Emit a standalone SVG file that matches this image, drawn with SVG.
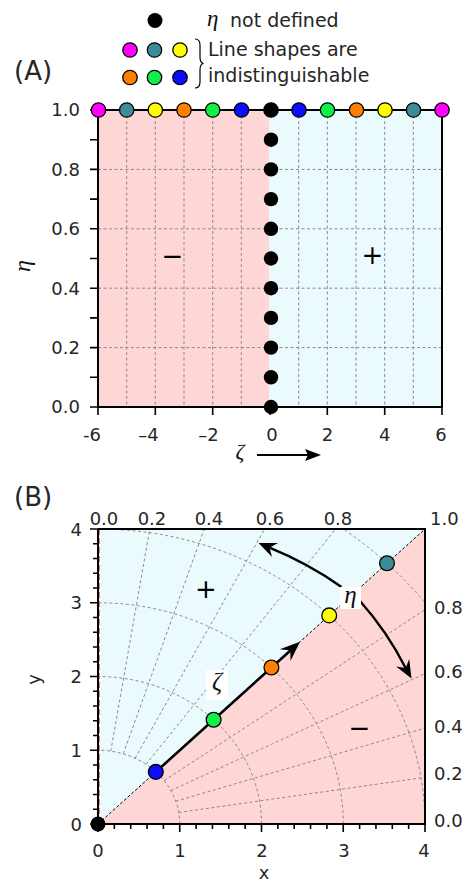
<svg xmlns="http://www.w3.org/2000/svg" width="471" height="882" viewBox="0 0 471 882">
<style>
.lbl{font-family:"DejaVu Sans","Liberation Sans",sans-serif;font-size:18px;fill:#262626}
.leg{font-family:"DejaVu Sans","Liberation Sans",sans-serif;font-size:19px;fill:#262626}
.big{font-family:"DejaVu Sans","Liberation Sans",sans-serif;font-size:26px;fill:#262626}
.sign{font-family:"DejaVu Sans","Liberation Sans",sans-serif;font-size:26px;fill:#000}
.gr{font-family:"Liberation Serif","DejaVu Serif",serif;font-style:italic;fill:#111}
.grid{stroke:#8a8a8a;stroke-width:1;stroke-dasharray:3 2.5;fill:none}
.frame{stroke:#000;stroke-width:2;fill:none}
.tick{stroke:#000;stroke-width:1.6;fill:none}
.dot{stroke:#000;stroke-width:1.3}
.pink{fill:#ffd6d6}
.blue{fill:#ebfbfd}
.mag{fill:#ff00ff}.teal{fill:#3c8d98}.yel{fill:#ffff00}.org{fill:#ff8000}.grn{fill:#10f048}.blu{fill:#0c0cff}.blk{fill:#000}
</style>
<defs>
<clipPath id="clipB"><rect x="98" y="529" width="327" height="295"/></clipPath>
</defs>
<rect width="471" height="882" fill="#fff"/>

<g id="legend">
<circle class="blk" cx="155" cy="20.5" r="7.5"/>
<text class="gr" x="207" y="26" font-size="23">η</text>
<text class="leg" x="230" y="27">not defined</text>
<circle class="dot mag" cx="130" cy="50" r="7.2"/>
<circle class="dot teal" cx="154.5" cy="50" r="7.2"/>
<circle class="dot yel" cx="180" cy="50" r="7.2"/>
<circle class="dot org" cx="130" cy="77.5" r="7.2"/>
<circle class="dot grn" cx="154.5" cy="77.5" r="7.2"/>
<circle class="dot blu" cx="180" cy="77.5" r="7.2"/>
<path d="M195 39 Q200 39 200 45 L200 57 Q200 63 203.5 63.5 Q200 64 200 70 L200 82 Q200 88 195 88" fill="none" stroke="#000" stroke-width="1.2"/>
<text class="leg" x="208" y="56">Line shapes are</text>
<text class="leg" x="208" y="82">indistinguishable</text>
</g>

<g id="panelA">
<text class="big" x="14" y="80">(A)</text>
<rect class="pink" x="98" y="110" width="171.5" height="297"/>
<rect class="blue" x="269.5" y="110" width="172.5" height="297"/>
<path class="grid" d="M126.7 110V407M155.3 110V407M184 110V407M212.7 110V407M241.3 110V407M298.7 110V407M327.3 110V407M356 110V407M384.7 110V407M413.3 110V407M98 169.4H442M98 228.8H442M98 288.2H442M98 347.6H442"/>
<path class="frame" d="M98 110V407H442V110M98 110H442"/>
<path class="tick" d="M90 407H98M90 377.3H98M90 347.6H98M90 317.9H98M90 288.2H98M90 258.5H98M90 228.8H98M90 199.1H98M90 169.4H98M90 139.7H98M90 110H98"/>
<path class="tick" d="M98 407V415M155.3 407V415M212.7 407V415M270 407V415M327.3 407V415M384.7 407V415M442 407V415"/>
<g id="zeta0-dots" class="blk">
<circle cx="271" cy="407" r="7.2"/><circle cx="271" cy="377.3" r="7.2"/><circle cx="271" cy="347.6" r="7.2"/><circle cx="271" cy="317.9" r="7.2"/><circle cx="271" cy="288.2" r="7.2"/><circle cx="271" cy="258.5" r="7.2"/><circle cx="271" cy="228.8" r="7.2"/><circle cx="271" cy="199.1" r="7.2"/><circle cx="271" cy="169.4" r="7.2"/><circle cx="271" cy="139.7" r="7.2"/>
</g>
<g id="top-dots">
<circle class="dot mag" cx="98.5" cy="110" r="7.2"/>
<circle class="dot teal" cx="126.7" cy="110" r="7.2"/>
<circle class="dot yel" cx="155.3" cy="110" r="7.2"/>
<circle class="dot org" cx="184" cy="110" r="7.2"/>
<circle class="dot grn" cx="212.7" cy="110" r="7.2"/>
<circle class="dot blu" cx="241.5" cy="110" r="7.2"/>
<circle class="dot blk" cx="271" cy="110" r="7.2"/>
<circle class="dot blu" cx="299" cy="110" r="7.2"/>
<circle class="dot grn" cx="327.5" cy="110" r="7.2"/>
<circle class="dot org" cx="356.5" cy="110" r="7.2"/>
<circle class="dot yel" cx="385" cy="110" r="7.2"/>
<circle class="dot teal" cx="413.5" cy="110" r="7.2"/>
<circle class="dot mag" cx="442" cy="110" r="7.2"/>
</g>
<g class="lbl" text-anchor="end">
<text x="80" y="116">1.0</text><text x="80" y="175.5">0.8</text><text x="80" y="235">0.6</text><text x="80" y="294.5">0.4</text><text x="80" y="354">0.2</text><text x="80" y="413">0.0</text>
</g>
<g class="lbl" text-anchor="middle">
<text x="92" y="441">-6</text><text x="148.5" y="441">–4</text><text x="208.5" y="441">–2</text><text x="272" y="441">0</text><text x="327.5" y="441">2</text><text x="384.7" y="441">4</text><text x="441" y="441">6</text>
</g>
<text class="sign" x="172.5" y="265" text-anchor="middle">−</text>
<text class="sign" x="372.5" y="264" text-anchor="middle">+</text>
<text class="gr" font-size="24" text-anchor="middle" transform="translate(30,266) rotate(-90)">η</text>
<text class="gr" font-size="22" x="240" y="459" text-anchor="middle">ζ</text>
<path d="M257 455H310" stroke="#000" stroke-width="1.8"/>
<path d="M321 455L305 449L308 455L305 461Z" fill="#000"/>
</g>

<g id="panelB">
<text class="big" x="14" y="506">(B)</text>
<polygon class="blue" points="98,824 98,529 425,529"/>
<polygon class="pink" points="98,824 425,529 425,824"/>
<g clip-path="url(#clipB)">
<path class="grid" d="M179.75 824A81.75 73.75 0 0 0 98 750.25M261.5 824A163.5 147.5 0 0 0 98 676.5M343.25 824A245.25 221.25 0 0 0 98 602.75M425 824A327 295 0 0 0 98 529M506.75 824A408.75 368.75 0 0 0 98 455.25"/>
<path class="grid" d="M110.79 751.16L174.7 386.9M123.26 753.86L249.6 403.1M135.11 758.29L320.7 429.7M146.05 764.34L386.3 466M164.14 780.65L494.8 563.9M170.84 790.52L534.9 623.1M175.75 801.21L564.5 687.3M178.75 812.47L582.5 754.8"/>
</g>
<path d="M99.5 529V824" stroke="#ec7a7a" stroke-width="1" stroke-dasharray="6 3"/>
<path d="M98 824L425 529" stroke="#000" stroke-width="1" stroke-dasharray="3 2"/>
<path class="frame" d="M98 529V824H425V529H98"/>
<path class="tick" d="M98 824V832M179.75 824V832M261.5 824V832M343.25 824V832M425 824V832M114.35 824V829M130.7 824V829M147.05 824V829M163.4 824V829M196.1 824V829M212.45 824V829M228.8 824V829M245.15 824V829M277.85 824V829M294.2 824V829M310.55 824V829M326.9 824V829M359.6 824V829M375.95 824V829M392.3 824V829M408.65 824V829"/>
<path class="tick" d="M90 824H98M90 750.25H98M90 676.5H98M90 602.75H98M90 529H98M93 809.25H98M93 794.5H98M93 779.75H98M93 765H98M93 735.5H98M93 720.75H98M93 706H98M93 691.25H98M93 661.75H98M93 647H98M93 632.25H98M93 617.5H98M93 588H98M93 573.25H98M93 558.5H98M93 543.75H98"/>
<g id="zeta-arrow">
<path d="M155.8 771.9L290.4 650.5" stroke="#000" stroke-width="2.6"/>
<path d="M300 641.8L290.5 661.1L290.35 650.5L279.8 649.3Z" fill="#000"/>
</g>
<g id="eta-arrow">
<path d="M269.5 547.7A352 318 0 0 1 341.5 587" fill="none" stroke="#000" stroke-width="2.4"/>
<path d="M360 601A352 318 0 0 1 405.6 668" fill="none" stroke="#000" stroke-width="2.4"/>
<path d="M258.5 543L278 543.1L269.5 547.7L272.1 556.9Z" fill="#000"/>
<path d="M411.5 678.5L409.2 659.1L405.6 668L396.1 666.5Z" fill="#000"/>
</g>
<circle class="blk" cx="98" cy="824" r="7.5"/>
<circle class="dot blu" cx="155.8" cy="771.9" r="7.4"/>
<circle class="dot grn" cx="213.6" cy="719.7" r="7.4"/>
<circle class="dot org" cx="271.4" cy="667.5" r="7.4"/>
<circle class="dot yel" cx="329.2" cy="615.4" r="7.4"/>
<circle class="dot teal" cx="387" cy="563.2" r="7.4"/>
<rect x="206" y="670" width="22" height="30" fill="#fff"/>
<text class="gr" font-size="25" x="217" y="690" text-anchor="middle">ζ</text>
<rect x="340" y="587" width="21" height="22" fill="#fff"/>
<text class="gr" font-size="25" x="350.5" y="603" text-anchor="middle">η</text>
<text class="sign" x="206" y="598" text-anchor="middle">+</text>
<text class="sign" x="359.5" y="737" text-anchor="middle">−</text>
<g class="lbl" text-anchor="end">
<text x="82" y="535.5">4</text><text x="82" y="609">3</text><text x="82" y="683">2</text><text x="82" y="756.5">1</text><text x="82" y="830.5">0</text>
</g>
<g class="lbl" text-anchor="middle">
<text x="98" y="857">0</text><text x="180" y="857">1</text><text x="262" y="857">2</text><text x="344" y="857">3</text><text x="424" y="857">4</text>
<text x="104" y="525">0.0</text><text x="152" y="525">0.2</text><text x="209" y="525">0.4</text><text x="270" y="525">0.6</text><text x="338" y="525">0.8</text>
</g>
<g class="lbl">
<text x="430" y="525">1.0</text><text x="434" y="614">0.8</text><text x="434" y="678">0.6</text><text x="434" y="733">0.4</text><text x="434" y="780">0.2</text><text x="434" y="827">0.0</text>
</g>
<text class="lbl" font-size="21" x="264" y="879" text-anchor="middle">x</text>
<text class="lbl" font-size="21" text-anchor="middle" transform="translate(40,679.5) rotate(-90)">y</text>
</g>
</svg>
